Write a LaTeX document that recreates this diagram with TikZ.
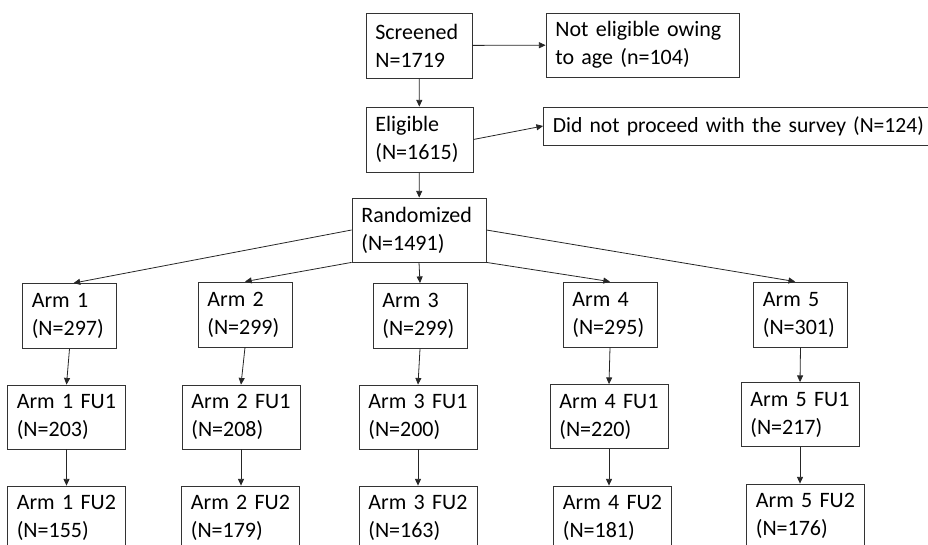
\documentclass[tikz,border=0pt]{standalone}
\usepackage{fontspec}
\setmainfont{Carlito}
\usepackage{tikz}
\usetikzlibrary{arrows.meta}

\begin{document}
\begin{tikzpicture}[x=0.75pt, y=-0.75pt,
		stage/.style={draw=black!80, line width=0.6pt, align=left, inner xsep=7pt, inner ysep=0pt,
			font=\fontsize{16.5}{21}\selectfont},
		arm/.style={stage, text width=56.5pt, minimum height=48.75pt},
		fu/.style={stage, text width=74.5pt, minimum height=48pt},
		flow/.style={draw=black!85, line width=0.6pt, -{Triangle[length=5pt,width=4.5pt]}}]
			%%%%% START %%%%%
			
			\clip (0, 0) rectangle (928, 545);
			
			\node[stage, text width=65.5pt, minimum height=48.75pt] (screened) at (419, 45.5) {Screened\\N=1719};
			\node[stage, text width=130.75pt, minimum height=48pt] (noteligible) at (642.5, 45) {Not~eligible~owing\\to~age~(n=104)};
			\node[stage, text width=66.25pt, minimum height=48.75pt] (eligible) at (419.5, 139.5) {Eligible\\(N=1615)};
			\node[stage, text width=295pt, minimum height=28.5pt, font=\fontsize{16.2}{21}\selectfont] (dropped) at (749.5, 126) {Did~not~proceed~with~the~survey~(N=124)};
			\node[stage, text width=86.5pt, minimum height=48pt] (randomized) at (419, 230) {Randomized\\(N=1491)};
			
			\node[arm] (arm1) at (69.5, 316) {Arm~1\\(N=297)};
			\node[arm] (arm2) at (245, 314.5) {Arm~2\\(N=299)};
			\node[arm] (arm3) at (420, 316) {Arm~3\\(N=299)};
			\node[arm] (arm4) at (610, 314.5) {Arm~4\\(N=295)};
			\node[arm] (arm5) at (800.5, 314.5) {Arm~5\\(N=301)};
			
			\node[fu] (fuA1) at (66.5, 417) {Arm~1~FU1\\(N=203)};
			\node[fu] (fuB1) at (241, 417) {Arm~2~FU1\\(N=208)};
			\node[fu] (fuC1) at (418, 417) {Arm~3~FU1\\(N=200)};
			\node[fu] (fuD1) at (609, 416.5) {Arm~4~FU1\\(N=220)};
			\node[fu] (fuE1) at (800, 414.5) {Arm~5~FU1\\(N=217)};
			
			\node[fu] (fuA2) at (66.5, 518) {Arm~1~FU2\\(N=155)};
			\node[fu] (fuB2) at (240.5, 518) {Arm~2~FU2\\(N=179)};
			\node[fu] (fuC2) at (418, 518) {Arm~3~FU2\\(N=163)};
			\node[fu] (fuD2) at (612.5, 518) {Arm~4~FU2\\(N=181)};
			\node[fu] (fuE2) at (805.5, 516) {Arm~5~FU2\\(N=176)};
			
			\draw[flow] (screened) -- (noteligible);
			\draw[flow] (screened) -- (eligible);
			\draw[flow] (eligible.east) -- (dropped.west);
			\draw[flow] (eligible) -- (randomized);
			
			\draw[flow] (randomized.west) -- ([xshift=3pt]arm1.north);
			\draw[flow] (randomized.south west) -- (arm2.north);
			\draw[flow] (randomized.south) -- (arm3.north);
			\draw[flow] (randomized.south east) -- (arm4.north);
			\draw[flow] (randomized.east) -- ([xshift=-4pt]arm5.north);
			
			\foreach \a/\b/\c in {arm1/fuA1/fuA2, arm2/fuB1/fuB2, arm3/fuC1/fuC2, arm4/fuD1/fuD2, arm5/fuE1/fuE2} {
				\draw[flow] (\a.south) -- (\b.north);
				\draw[flow] (\b.south) -- (\b.south |- \c.north);
			}
			
			%%%%% END %%%%%
		\end{tikzpicture}
\end{document}
